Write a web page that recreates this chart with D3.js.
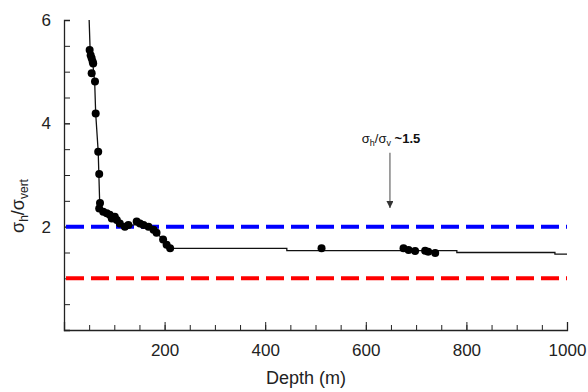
<!DOCTYPE html>
<html lang="en">
<head>
<meta charset="UTF-8">
<title>Stress ratio vs depth</title>
<script src="https://d3js.org/d3.v7.min.js"></script>
<style>
  body { margin: 0; background: #fff; }
  text { font-family: "Liberation Sans", Arial, sans-serif; }
</style>
</head>
<body>
<svg id="chart" width="588" height="392"></svg>
<script>
// measured points (depth m, sigma_h / sigma_vert)
const depths = [51, 53, 55, 57, 58, 55, 61.6, 63, 68, 70, 71.6, 70, 78, 85, 91, 95, 101, 105, 111, 121, 128,
                144.5, 151, 158, 168, 178, 184, 197, 204, 211,
                512, 675, 685, 698, 718, 724, 738];
const ratios = [5.42, 5.32, 5.26, 5.19, 5.16, 4.97, 4.81, 4.19, 3.45, 3.02, 2.46, 2.35, 2.29, 2.26, 2.23, 2.16, 2.19, 2.13, 2.06, 2.0, 2.03,
                2.10, 2.06, 2.03, 2.0, 1.94, 1.88, 1.75, 1.65, 1.58,
                1.58, 1.58, 1.55, 1.53, 1.535, 1.515, 1.49];

// fitted trend line
const lineDepths = [50, 52, 57, 61, 63, 68, 71, 78, 91, 111, 121, 150, 168, 184, 197, 211, 443, 443, 781, 781, 976, 976, 1000];
const lineRatios = [6.0, 5.4, 5.18, 4.8, 4.19, 3.45, 2.45, 2.3, 2.22, 2.08, 2.01, 2.05, 2.0, 1.88, 1.75, 1.58, 1.58, 1.535, 1.535, 1.5, 1.5, 1.47, 1.47];

// reference ratios
const refLines = [2, 1];
const refColors = ["#0000ff", "#ff0000"];

const xMajor = [200, 400, 600, 800, 1000];
const xMinor = d3.range(50, 1001, 50);
const yMajor = [2, 4, 6];
const yMinor = d3.range(0.5, 6.01, 0.5);

const svg = d3.select("#chart");
const x = d3.scaleLinear().domain([0, 1000]).range([64, 567]);
const y = d3.scaleLinear().domain([0, 6]).range([330, 20]);

// axes
const axisColor = "#222";
const fmt = d3.format("d");
const gx = svg.append("g").attr("transform", "translate(0," + y(0) + ")");
gx.call(d3.axisBottom(x).tickValues(xMinor).tickSize(-5).tickFormat(""));
gx.append("g").call(d3.axisBottom(x).tickValues(xMajor).tickSize(-8).tickPadding(14).tickFormat(fmt));

const gy = svg.append("g").attr("transform", "translate(" + x(0) + ",0)");
gy.call(d3.axisLeft(y).tickValues(yMinor).tickSize(-6).tickFormat(""));
gy.append("g").call(d3.axisLeft(y).tickValues(yMajor).tickSize(-6).tickPadding(13).tickFormat(fmt));

svg.selectAll(".domain").attr("stroke", axisColor).attr("stroke-width", 1.3);
svg.selectAll(".tick line").attr("stroke", axisColor);
svg.selectAll(".tick text").attr("font-size", 17).attr("fill", "#222")
   .attr("font-family", "'Liberation Sans', Arial, sans-serif");
// remove duplicate domain paths of the inner major axes
gx.select("g .domain").remove();
gy.select("g .domain").remove();

// reference dashed lines
svg.selectAll(".ref")
  .data(refLines)
  .join("line")
  .attr("x1", x(0) + 2).attr("x2", x(1000))
  .attr("y1", d => y(d)).attr("y2", d => y(d))
  .attr("stroke", (d, i) => refColors[i])
  .attr("stroke-width", 4)
  .attr("stroke-dasharray", "18,7");

// trend line
const lineData = lineDepths.map((d, i) => [d, lineRatios[i]]);
svg.append("path")
  .datum(lineData)
  .attr("fill", "none")
  .attr("stroke", "#111")
  .attr("stroke-width", 1.3)
  .attr("d", d3.line().x(d => x(d[0])).y(d => y(d[1])));

// points
svg.selectAll(".pt")
  .data(depths.map((d, i) => [d, ratios[i]]))
  .join("circle")
  .attr("cx", d => x(d[0]))
  .attr("cy", d => y(d[1]))
  .attr("r", 4)
  .attr("fill", "#000");

// annotation
const ann = svg.append("text")
  .attr("x", x(592)).attr("y", y(3.62))
  .attr("font-size", 13).attr("fill", "#111");
ann.append("tspan").text("σ");
ann.append("tspan").attr("font-size", 9).attr("dy", 3).text("h");
ann.append("tspan").attr("dy", -3).text("/σ");
ann.append("tspan").attr("font-size", 9).attr("dy", 3).text("v");
ann.append("tspan").attr("dy", -3).attr("font-weight", "bold").text(" ~1.5");

svg.append("defs").append("marker")
  .attr("id", "head").attr("viewBox", "0 0 10 10")
  .attr("refX", 10).attr("refY", 5)
  .attr("markerWidth", 7).attr("markerHeight", 7)
  .attr("markerUnits", "userSpaceOnUse")
  .attr("orient", "auto")
  .append("path").attr("d", "M0,0L10,5L0,10Z").attr("fill", "#333");

svg.append("line")
  .attr("x1", x(648)).attr("x2", x(648))
  .attr("y1", y(3.43)).attr("y2", y(2.36))
  .attr("stroke", "#666").attr("stroke-width", 1.2)
  .attr("marker-end", "url(#head)");

// axis titles
svg.append("text")
  .attr("x", 306).attr("y", 384)
  .attr("text-anchor", "middle")
  .attr("font-size", 18).attr("fill", "#222")
  .text("Depth (m)");

const yt = svg.append("text")
  .attr("transform", "translate(24,206) rotate(-90)")
  .attr("text-anchor", "middle")
  .attr("font-size", 18).attr("fill", "#222");
yt.append("tspan").text("σ");
yt.append("tspan").attr("font-size", 12).attr("dy", 4).text("h");
yt.append("tspan").attr("dy", -4).text("/σ");
yt.append("tspan").attr("font-size", 12).attr("dy", 4).text("vert");
</script>
</body>
</html>
